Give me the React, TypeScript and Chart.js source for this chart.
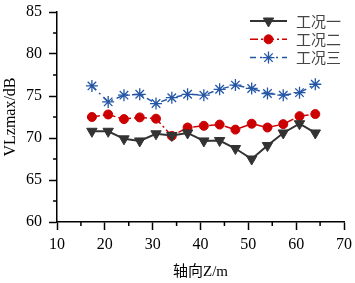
import React, { useEffect, useRef } from 'react';
import { Chart, registerables } from 'chart.js';
import { drawPoint } from 'chart.js/helpers';

Chart.register(...registerables);

const positions = [17.3, 20.7, 24, 27.3, 30.7, 34, 37.3, 40.7, 44, 47.3, 50.7, 54, 57.3, 60.7, 64];
const case1 = [70.8, 70.8, 69.9, 69.65, 70.5, 70.3, 70.6, 69.65, 69.7, 68.75, 67.5, 69.1, 70.6, 71.7, 70.6];
const case2 = [72.5, 72.8, 72.25, 72.45, 72.3, 70.25, 71.25, 71.45, 71.6, 71.0, 71.7, 71.25, 71.65, 72.6, 72.85];
const case3 = [76.2, 74.3, 75.1, 75.2, 74.1, 74.8, 75.2, 75.1, 75.8, 76.3, 75.9, 75.3, 75.1, 75.4, 76.4];
const seriesNames = ['工况一', '工况二', '工况三'];
const xTitle = '轴向Z/m';
const yTitle = 'VLzmax/dB';

const SERIF = '"Liberation Serif", "Times New Roman", serif';
const CJK = '"Liberation Serif", "Noto Sans CJK SC", serif';

const minorTicks = {
  id: 'minorTicks',
  afterDraw(chart: any) {
    const ctx = chart.ctx;
    ctx.save();
    ctx.strokeStyle = '#000';
    ctx.lineWidth = 1.5;
    const xs = chart.scales.x;
    const ys = chart.scales.y;
    const xt = xs.ticks.map((t: any) => t.value);
    for (let i = 0; i < xt.length - 1; i++) {
      const px = xs.getPixelForValue((xt[i] + xt[i + 1]) / 2);
      ctx.beginPath();
      ctx.moveTo(px, xs.top);
      ctx.lineTo(px, xs.top + 4);
      ctx.stroke();
    }
    const yt = ys.ticks.map((t: any) => t.value);
    for (let i = 0; i < yt.length - 1; i++) {
      const py = ys.getPixelForValue((yt[i] + yt[i + 1]) / 2);
      ctx.beginPath();
      ctx.moveTo(ys.right, py);
      ctx.lineTo(ys.right - 4, py);
      ctx.stroke();
    }
    ctx.restore();
  },
};

const customLegend = {
  id: 'customLegend',
  afterDraw(chart: any) {
    const ctx = chart.ctx;
    const x0 = 250, x1 = 287, mx = 268.5, tx = 296, y0 = 21, step = 18.3;
    chart.data.datasets.forEach((ds: any, i: number) => {
      const y = y0 + i * step;
      ctx.save();
      ctx.strokeStyle = ds.borderColor;
      ctx.lineWidth = ds.borderWidth;
      ctx.setLineDash(ds.borderDash || []);
      ctx.beginPath();
      ctx.moveTo(x0, y);
      ctx.lineTo(x1, y);
      ctx.stroke();
      ctx.setLineDash([]);
      ctx.fillStyle = ds.pointBackgroundColor;
      ctx.strokeStyle = ds.pointBorderColor;
      ctx.lineWidth = ds.pointBorderWidth;
      drawPoint(ctx, {
        pointStyle: ds.pointStyle,
        rotation: ds.pointRotation || 0,
        radius: ds.pointRadius,
        borderWidth: ds.pointBorderWidth,
      } as any, mx, y);
      ctx.fillStyle = '#444';
      ctx.font = '15px "Noto Sans CJK SC", sans-serif';
      ctx.textBaseline = 'middle';
      ctx.textAlign = 'left';
      ctx.fillText(ds.label, tx, y);
      ctx.restore();
    });
  },
};

export default function App() {
  const ref = useRef<HTMLCanvasElement>(null);
  useEffect(() => {
    document.body.style.margin = '0';
    const canvas = ref.current!;
    const toPts = (arr: number[]) => positions.map((x, i) => ({ x, y: arr[i] }));
    const chart = new Chart(canvas, {
      type: 'line',
      data: {
        datasets: [
          {
            label: seriesNames[0],
            data: toPts(case1),
            borderColor: '#333333',
            backgroundColor: '#333333',
            borderWidth: 2,
            pointStyle: 'triangle',
            pointRotation: 180,
            pointRadius: 6,
            pointBackgroundColor: '#333333',
            pointBorderColor: '#333333',
            pointBorderWidth: 1,
          },
          {
            label: seriesNames[1],
            data: toPts(case2),
            borderColor: '#cc0000',
            backgroundColor: '#cc0000',
            borderWidth: 1.5,
            borderDash: [8, 3, 2, 3],
            pointStyle: 'circle',
            pointRadius: 4.5,
            pointBackgroundColor: '#cc0000',
            pointBorderColor: '#cc0000',
            pointBorderWidth: 1,
          },
          {
            label: seriesNames[2],
            data: toPts(case3),
            borderColor: '#2356a5',
            backgroundColor: '#2356a5',
            borderWidth: 1.5,
            borderDash: [6, 4, 2, 4],
            pointStyle: 'star',
            pointRadius: 6,
            pointBackgroundColor: '#2356a5',
            pointBorderColor: '#2356a5',
            pointBorderWidth: 1.3,
          },
        ] as any,
      },
      options: {
        animation: false,
        responsive: false,
        maintainAspectRatio: false,
        layout: { padding: { top: 12, right: 11, left: 0, bottom: 0 } },
        plugins: { legend: { display: false }, tooltip: { enabled: false } },
        scales: {
          x: {
            type: 'linear',
            min: 10,
            max: 70,
            afterFit: (s: any) => { s.height = 61; s.paddingLeft = 0; s.paddingRight = 0; },
            ticks: { stepSize: 10, color: '#000', padding: 5, font: { family: SERIF, size: 16 } },
            grid: { display: true, drawOnChartArea: false, drawTicks: true, tickLength: 8, tickColor: '#000', tickWidth: 1.5 },
            border: { display: true, color: '#000', width: 1.5 },
            title: { display: true, text: xTitle, color: '#000', font: { family: CJK, size: 15 }, padding: { top: 0, bottom: 2 } },
          },
          y: {
            type: 'linear',
            min: 60,
            max: 85,
            afterFit: (s: any) => { s.width = 57; s.paddingTop = 0; s.paddingBottom = 0; },
            ticks: { stepSize: 5, color: '#000', padding: 7, font: { family: SERIF, size: 16 } },
            grid: { display: true, drawOnChartArea: false, drawTicks: true, tickLength: 8, tickColor: '#000', tickWidth: 1.5 },
            border: { display: true, color: '#000', width: 1.5 },
            title: { display: true, text: yTitle, color: '#000', font: { family: SERIF, size: 16 }, padding: { top: 1, bottom: 0 } },
          },
        },
      } as any,
      plugins: [minorTicks, customLegend],
    });
    return () => chart.destroy();
  }, []);
  return (
    <div style={{ width: 355, height: 283 }}>
      <canvas ref={ref} width={355} height={283} style={{ display: 'block' }} />
    </div>
  );
}
